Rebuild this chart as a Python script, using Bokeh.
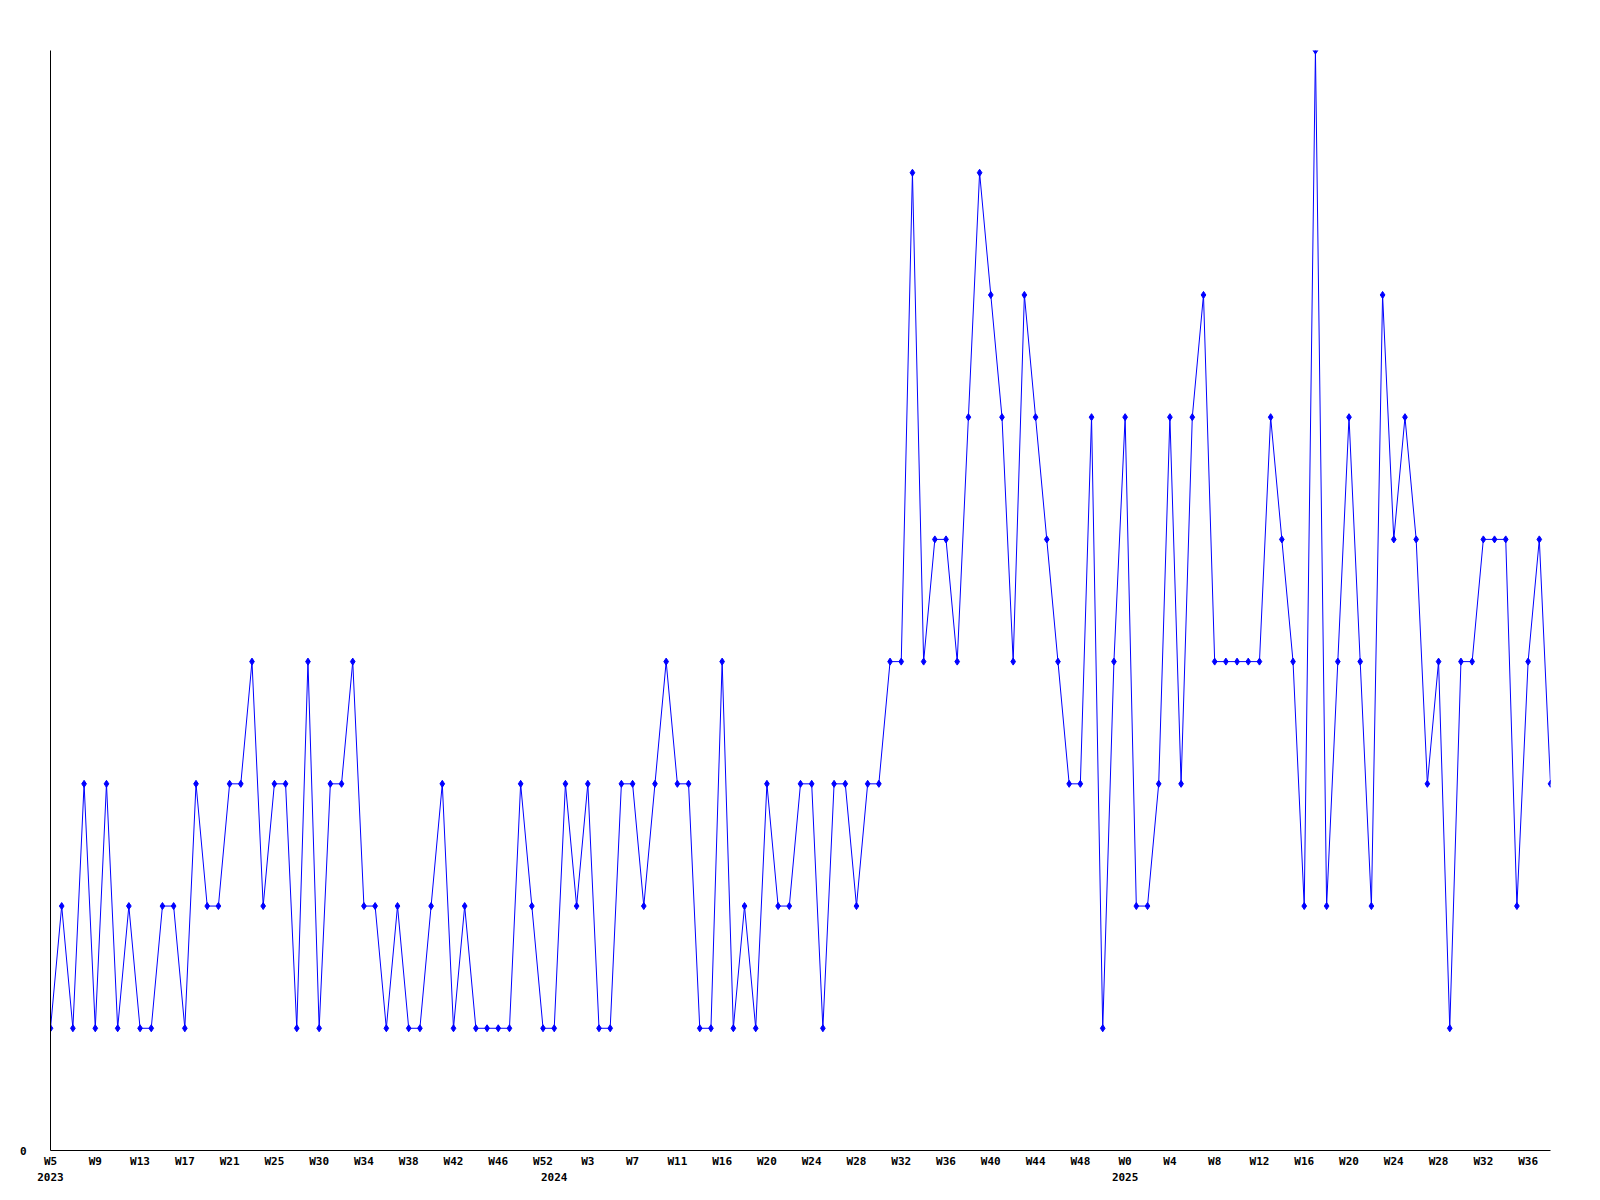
from bokeh.plotting import figure
from bokeh.models import Range1d, FixedTicker, LinearAxis, ColumnDataSource
from bokeh.embed import file_html
from bokeh.resources import INLINE

# ---- data ----
values = [1, 2, 1, 3, 1, 3, 1, 2, 1, 1,
          2, 2, 1, 3, 2, 2, 3, 3, 4, 2,
          3, 3, 1, 4, 1, 3, 3, 4, 2, 2,
          1, 2, 1, 1, 2, 3, 1, 2, 1, 1,
          1, 1, 3, 2, 1, 1, 3, 2, 3, 1,
          1, 3, 3, 2, 3, 4, 3, 3, 1, 1,
          4, 1, 2, 1, 3, 2, 2, 3, 3, 1,
          3, 3, 2, 3, 3, 4, 4, 8, 4, 5,
          5, 4, 6, 8, 7, 6, 4, 7, 6, 5,
          4, 3, 3, 6, 1, 4, 6, 2, 2, 3,
          6, 3, 6, 7, 4, 4, 4, 4, 4, 6,
          5, 4, 2, 9, 2, 4, 6, 4, 2, 7,
          5, 6, 5, 3, 4, 1, 4, 4, 5, 5,
          5, 2, 4, 5, 3]
week_tick_idx = list(range(0, 133, 4))
week_labels = ["W5", "W9", "W13", "W17", "W21", "W25", "W30", "W34", "W38",
               "W42", "W46", "W52", "W3", "W7", "W11", "W16", "W20", "W24",
               "W28", "W32", "W36", "W40", "W44", "W48", "W0", "W4", "W8",
               "W12", "W16", "W20", "W24", "W28", "W32", "W36"]
year_tick_idx = [0, 45, 96]
year_labels = ["2023", "2024", "2025"]
y_ticks = [0]
y_labels = ["0"]

x = list(range(len(values)))
src = ColumnDataSource(dict(x=x, y=values))

FONT = "DejaVu Sans Mono"

p = figure(width=1584, height=1184, output_backend="svg", toolbar_location=None,
           x_range=Range1d(0, len(values) - 1), y_range=Range1d(0, 9),
           min_border_left=50, min_border_right=34, min_border_top=50,
           min_border_bottom=34)
p.outline_line_color = None
p.grid.visible = False
p.background_fill_color = "white"
p.border_fill_color = "white"

p.line("x", "y", source=src, line_color="#0000ff", line_width=1)
p.scatter("x", "y", source=src, marker="diamond", size=7,
          fill_color="#0000ff", line_color="#0000ff")

def style_axis(ax):
    ax.major_tick_in = 0
    ax.major_tick_out = 0
    ax.minor_tick_in = 0
    ax.minor_tick_out = 0
    ax.major_label_text_font = FONT
    ax.major_label_text_font_style = "bold"
    ax.major_label_text_font_size = "11px"
    ax.major_label_text_color = "black"
    ax.axis_line_color = "black"
    ax.axis_line_width = 1

xa = p.xaxis[0]
xa.ticker = FixedTicker(ticks=week_tick_idx)
xa.major_label_overrides = {i: l for i, l in zip(week_tick_idx, week_labels)}
style_axis(xa)
xa.major_label_standoff = 4

ya = p.yaxis[0]
ya.ticker = FixedTicker(ticks=y_ticks)
ya.major_label_overrides = {i: l for i, l in zip(y_ticks, y_labels)}
style_axis(ya)
ya.major_label_standoff = 24

year_axis = LinearAxis(ticker=FixedTicker(ticks=year_tick_idx))
year_axis.major_label_overrides = {i: l for i, l in zip(year_tick_idx, year_labels)}
style_axis(year_axis)
year_axis.axis_line_color = None
year_axis.major_label_standoff = 2
p.add_layout(year_axis, "below")

open("out.html", "w").write(file_html(p, INLINE))
